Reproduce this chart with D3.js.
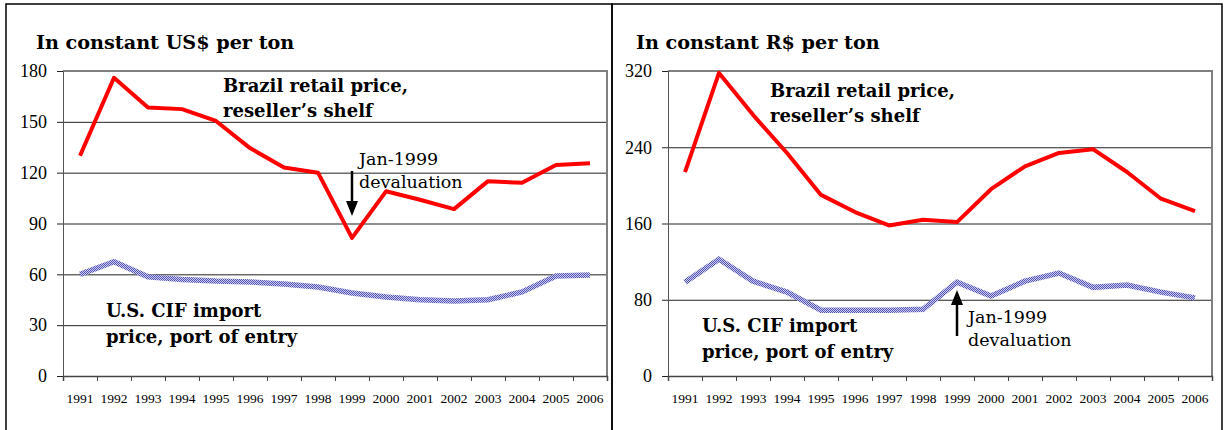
<!DOCTYPE html>
<html>
<head>
<meta charset="utf-8">
<script src="https://cdn.jsdelivr.net/npm/d3@7"></script>
<style>
  body { margin: 0; background: #fff; }
</style>
</head>
<body>
<script>
// years on the x axis
const years = [1991, 1992, 1993, 1994, 1995, 1996, 1997, 1998, 1999, 2000, 2001, 2002, 2003, 2004, 2005, 2006];

// left panel: constant US$ per ton
const usdRetail = [130, 176, 158.5, 157.5, 150.5, 134.5, 123, 120, 81.5, 109, 104, 98.5, 115, 114, 124.5, 125.5];
const usdImport = [60, 67.5, 58.5, 57, 56, 55.5, 54.3, 52.5, 49, 46.6, 45, 44.3, 45, 49.6, 59, 59.6];
const usdTicks = [0, 30, 60, 90, 120, 150, 180];

// right panel: constant R$ per ton
const brlRetail = [214, 318, 274, 234, 190, 172, 158, 164, 161.5, 196, 220, 234, 238, 214, 186, 173];
const brlImport = [98.5, 122.5, 99.5, 88, 69, 69, 69, 70, 98.5, 84, 99.5, 108, 93, 95.5, 88, 82];
const brlTicks = [0, 80, 160, 240, 320];

const NUM_FONT = "Liberation Serif, serif";
const TXT_FONT = "DejaVu Serif, serif";

const svg = d3.select("body").append("svg")
    .attr("width", 1224)
    .attr("height", 430);

// checkered pattern for the import price line
const pat = svg.append("defs").append("pattern")
    .attr("id", "checker")
    .attr("patternUnits", "userSpaceOnUse")
    .attr("width", 2)
    .attr("height", 2);
pat.append("rect").attr("width", 2).attr("height", 2).attr("fill", "#cdcdf0");
pat.append("rect").attr("width", 1).attr("height", 1).attr("fill", "#5454b8");
pat.append("rect").attr("x", 1).attr("y", 1).attr("width", 1).attr("height", 1).attr("fill", "#5454b8");

// panel frames
svg.append("rect").attr("x", 6).attr("y", 4).attr("width", 606).attr("height", 440)
    .attr("fill", "none").attr("stroke", "#000").attr("stroke-width", 1.5);
svg.append("rect").attr("x", 612).attr("y", 4).attr("width", 610).attr("height", 440)
    .attr("fill", "none").attr("stroke", "#000").attr("stroke-width", 1.5);

function drawPanel(p) {
    const g = svg.append("g");
    const x = d3.scaleBand().domain(years).range([p.left, p.right]).padding(0);
    const xEdge = d3.scaleLinear().domain([0, years.length]).range([p.left, p.right]);
    const y = d3.scaleLinear().domain([0, p.max]).range([376, 71]);
    const width = p.right - p.left;

    // gridlines
    g.append("g")
        .attr("transform", `translate(${p.left},0)`)
        .call(d3.axisLeft(y).tickValues(p.ticks.slice(1, -1)).tickSize(-width).tickFormat(""))
        .call(a => a.select(".domain").remove())
        .call(a => a.selectAll("line").attr("stroke", "#222").attr("stroke-width", 1));

    // plot area border (top and right)
    g.append("path")
        .attr("d", `M${p.left},${y(p.max)}H${p.right}V${y(0)}`)
        .attr("fill", "none").attr("stroke", "#808080").attr("stroke-width", 2);

    // y axis
    g.append("g")
        .attr("transform", `translate(${p.left},0)`)
        .call(d3.axisLeft(y).tickValues(p.ticks).tickSize(6).tickPadding(10))
        .call(a => a.select(".domain").attr("stroke", "#555"))
        .call(a => a.selectAll("line").attr("stroke", "#222"))
        .call(a => a.selectAll("text").attr("font-size", 18).attr("font-family", NUM_FONT).attr("fill", "#000"));

    // x axis ticks at category edges
    g.append("g")
        .attr("transform", `translate(0,${y(0)})`)
        .call(d3.axisBottom(xEdge).ticks(years.length).tickSize(5).tickFormat(""))
        .call(a => a.select(".domain").attr("stroke", "#444").attr("stroke-width", 1.5))
        .call(a => a.selectAll("line").attr("stroke", "#444"));

    // x labels centred on categories
    g.append("g")
        .attr("transform", `translate(0,${y(0)})`)
        .call(d3.axisBottom(x).tickSize(0).tickPadding(17))
        .call(a => a.select(".domain").remove())
        .call(a => a.selectAll("text").attr("font-size", 13.5).attr("font-family", NUM_FONT).attr("fill", "#000"));

    const line = d3.line()
        .x((d, i) => x(years[i]) + x.bandwidth() / 2)
        .y(d => y(d));

    g.append("path").datum(p.imports)
        .attr("d", line)
        .attr("fill", "none")
        .attr("stroke", "url(#checker)")
        .attr("stroke-width", 5.5);

    g.append("path").datum(p.retail)
        .attr("d", line)
        .attr("fill", "none")
        .attr("stroke", "#ff0000")
        .attr("stroke-width", 4)
        .attr("stroke-linejoin", "round");

    // title
    g.append("text")
        .attr("x", p.titleX).attr("y", 49)
        .attr("font-family", TXT_FONT)
        .attr("font-size", 19.2).attr("font-weight", "bold")
        .text(p.title);

    // series labels
    const lab = (txt, lx, ly1, ly2) => {
        const t = g.append("text").attr("font-family", TXT_FONT)
            .attr("font-size", 18).attr("font-weight", "bold");
        t.append("tspan").attr("x", lx).attr("y", ly1).text(txt[0]);
        t.append("tspan").attr("x", lx).attr("y", ly2).text(txt[1]);
    };
    lab(["Brazil retail price,", "reseller\u2019s shelf"], p.retailLab[0], p.retailLab[1], p.retailLab[1] + 25);
    lab(["U.S. CIF import", "price, port of entry"], p.importLab[0], p.importLab[1], p.importLab[1] + 26);

    // devaluation note with arrow
    const ax = x(1999) + x.bandwidth() / 2;
    const a = p.arrow;
    const dir = a.to > a.from ? -1 : 1;
    g.append("line")
        .attr("x1", ax).attr("x2", ax)
        .attr("y1", a.from).attr("y2", a.to + dir * 12)
        .attr("stroke", "#000").attr("stroke-width", 2.5);
    g.append("path")
        .attr("d", `M${ax},${a.to}L${ax - 6},${a.to + dir * 15}L${ax + 6},${a.to + dir * 15}Z`)
        .attr("fill", "#000");
    const nt = g.append("text").attr("font-family", TXT_FONT).attr("font-size", 17.5);
    nt.append("tspan").attr("x", a.textX).attr("y", a.textY).text("Jan-1999");
    nt.append("tspan").attr("x", a.textX).attr("y", a.textY + 23).text("devaluation");
}

drawPanel({
    left: 63, right: 607, max: 180, ticks: usdTicks,
    retail: usdRetail, imports: usdImport,
    title: "In constant US$ per ton", titleX: 36,
    retailLab: [223, 92], importLab: [106, 317],
    arrow: {from: 171, to: 216, textX: 359, textY: 165}
});

drawPanel({
    left: 668, right: 1212, max: 320, ticks: brlTicks,
    retail: brlRetail, imports: brlImport,
    title: "In constant R$ per ton", titleX: 636,
    retailLab: [770, 97], importLab: [702, 332],
    arrow: {from: 336, to: 290, textX: 968, textY: 323}
});
</script>
</body>
</html>
